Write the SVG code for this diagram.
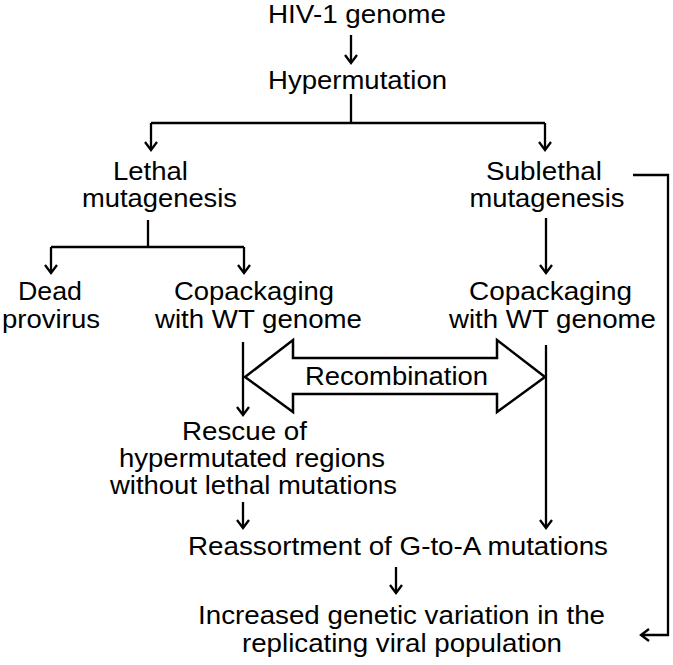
<svg xmlns="http://www.w3.org/2000/svg" width="673" height="665" viewBox="0 0 673 665">
<style>
text{font-family:"Liberation Sans",Arial,sans-serif;font-size:25px;fill:#000;text-anchor:middle}
.c{fill:none;stroke:#000;stroke-width:2.3}
.big{fill:#fff;stroke:#000;stroke-width:2.5;stroke-linejoin:miter}
</style>
<defs>
<marker id="ah" markerUnits="userSpaceOnUse" markerWidth="20" markerHeight="20" viewBox="-10 -10 20 20" refX="0" refY="0" orient="auto" overflow="visible">
<path d="M-8,-6 L0,0 L-8,6" fill="none" stroke="#000" stroke-width="2.3"/>
</marker>
</defs>
<rect width="673" height="665" fill="#fff"/>
<g id="connectors">
<path class="c" d="M351,35 V63" marker-end="url(#ah)"/>
<path class="c" d="M351,94 V123"/>
<path class="c" d="M151,123 H545"/>
<path class="c" d="M151,123 V150" marker-end="url(#ah)"/>
<path class="c" d="M545,123 V150" marker-end="url(#ah)"/>
<path class="c" d="M148,220 V247"/>
<path class="c" d="M51,247 H244"/>
<path class="c" d="M51,247 V273" marker-end="url(#ah)"/>
<path class="c" d="M244,247 V273" marker-end="url(#ah)"/>
<path class="c" d="M546,218 V273" marker-end="url(#ah)"/>
<path class="c" d="M243,342 V415" marker-end="url(#ah)"/>
<path class="c" d="M546,345 V528" marker-end="url(#ah)"/>
<path class="c" d="M243,502 V528" marker-end="url(#ah)"/>
<path class="c" d="M396,567 V593" marker-end="url(#ah)"/>
<path class="c" d="M633,175 H668 V635 H641" marker-end="url(#ah)"/>
<polygon id="recombination-arrow" class="big" points="245,377 293,340 293,358 497,358 497,340 545,377 497,412 497,394 293,394 293,412"/>
</g>
<g id="n-hiv"><text x="357" y="23" textLength="178" lengthAdjust="spacingAndGlyphs">HIV-1 genome</text></g>
<g id="n-hyper"><text x="357.5" y="89" textLength="179" lengthAdjust="spacingAndGlyphs">Hypermutation</text></g>
<g id="n-lethal"><text x="150.5" y="180" textLength="75" lengthAdjust="spacingAndGlyphs">Lethal</text><text x="159.5" y="207" textLength="155" lengthAdjust="spacingAndGlyphs">mutagenesis</text></g>
<g id="n-sublethal"><text x="544" y="180" textLength="116" lengthAdjust="spacingAndGlyphs">Sublethal</text><text x="547" y="207" textLength="155" lengthAdjust="spacingAndGlyphs">mutagenesis</text></g>
<g id="n-dead"><text x="50" y="300" textLength="64" lengthAdjust="spacingAndGlyphs">Dead</text><text x="51" y="328" textLength="98" lengthAdjust="spacingAndGlyphs">provirus</text></g>
<g id="n-copack-left"><text x="254" y="300" textLength="160" lengthAdjust="spacingAndGlyphs">Copackaging</text><text x="258.5" y="328" textLength="207" lengthAdjust="spacingAndGlyphs">with WT genome</text></g>
<g id="n-copack-right"><text x="550.5" y="300" textLength="163" lengthAdjust="spacingAndGlyphs">Copackaging</text><text x="552.5" y="328" textLength="207" lengthAdjust="spacingAndGlyphs">with WT genome</text></g>
<g id="n-recomb"><text x="396.5" y="385" textLength="183" lengthAdjust="spacingAndGlyphs">Recombination</text></g>
<g id="n-rescue"><text x="244.5" y="440" textLength="125" lengthAdjust="spacingAndGlyphs">Rescue of</text><text x="252" y="467" textLength="266" lengthAdjust="spacingAndGlyphs">hypermutated regions</text><text x="253.5" y="494" textLength="287" lengthAdjust="spacingAndGlyphs">without lethal mutations</text></g>
<g id="n-reassort"><text x="398" y="555" textLength="420" lengthAdjust="spacingAndGlyphs">Reassortment of G-to-A mutations</text></g>
<g id="n-increased"><text x="401.5" y="624" textLength="407" lengthAdjust="spacingAndGlyphs">Increased genetic variation in the</text><text x="402" y="652" textLength="320" lengthAdjust="spacingAndGlyphs">replicating viral population</text></g>
</svg>
